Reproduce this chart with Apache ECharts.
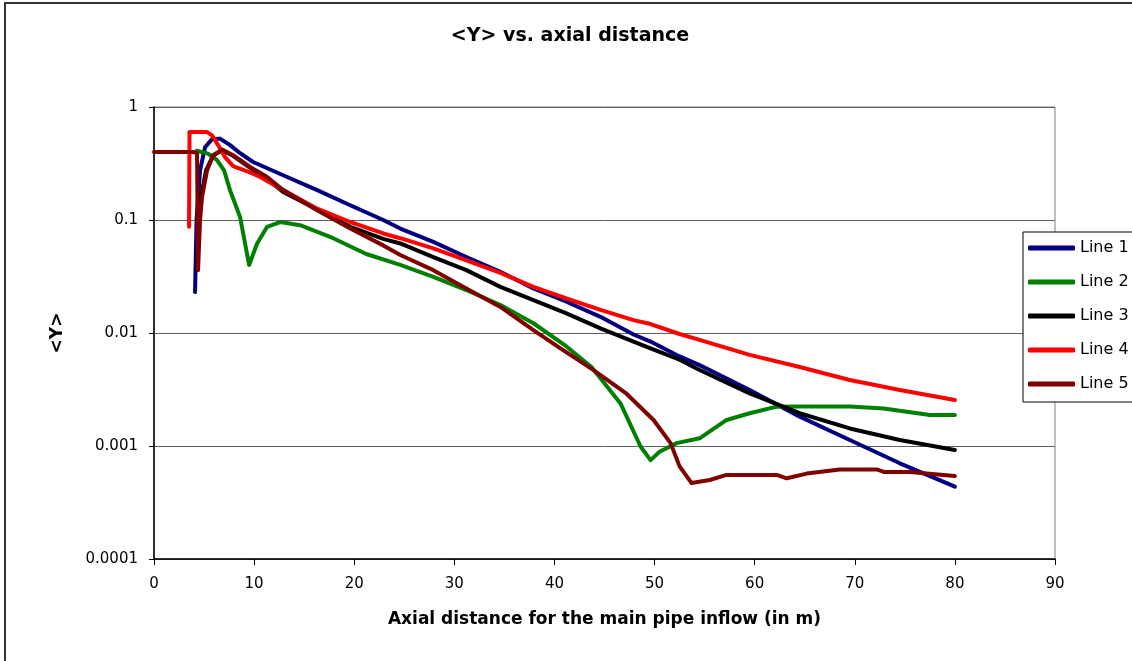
<!DOCTYPE html>
<html>
<head>
<meta charset="utf-8">
<script src="https://cdn.jsdelivr.net/npm/echarts@6/dist/echarts.min.js"></script>
<style>
  html, body { margin: 0; padding: 0; background: #fff; }
  #chart { width: 1132px; height: 661px; }
</style>
</head>
<body>
<div id="chart"></div>
<script>
// Mean <Y> along the main pipe, per line: [axial distance (m), <Y>]
const seriesNames = ['Line 1', 'Line 2', 'Line 3', 'Line 4', 'Line 5'];
const seriesColors = ['#000080', '#008000', '#000000', '#ff0000', '#800000'];

const line1 = [[4.1,0.023],[4.25,0.1],[4.6,0.275],[5.1,0.44],[5.8,0.52],[6.6,0.525],[7.6,0.46],[8.6,0.39],[9.9,0.326],[12.9,0.249],[16.3,0.184],[19.6,0.135],[22.9,0.1],[24.6,0.084],[27.9,0.064],[31.2,0.047],[34.6,0.0348],[37.9,0.0248],[41.2,0.0189],[44.6,0.0139],[47.9,0.0097],[49.6,0.0084],[52.5,0.0062],[54.5,0.0052],[59.5,0.00313],[64.5,0.00182],[69.5,0.00113],[74.5,0.000703],[80,0.000437]];

const line2 = [[4.26,0.41],[5.4,0.387],[6.3,0.338],[7.0,0.275],[7.6,0.183],[8.6,0.106],[9.5,0.04],[10.3,0.062],[11.3,0.087],[12.6,0.096],[14.6,0.09],[17.9,0.069],[21.2,0.05],[24.6,0.04],[27.9,0.0314],[31.2,0.024],[34.6,0.0177],[37.9,0.0122],[41.2,0.0076],[43.7,0.005],[46.6,0.00238],[48.6,0.00099],[49.6,0.00075],[50.5,0.00089],[52.2,0.00106],[54.5,0.00117],[57.2,0.0017],[59.5,0.00195],[62.2,0.00223],[64.5,0.00224],[69.5,0.00224],[72.9,0.00215],[77.5,0.00188],[80,0.00188]];

const line3 = [[4.3,0.036],[4.45,0.1],[4.7,0.16],[5.2,0.275],[5.9,0.37],[6.8,0.415],[7.9,0.37],[9.6,0.29],[11.3,0.23],[12.9,0.177],[16.3,0.124],[19.6,0.087],[22.9,0.068],[24.6,0.062],[27.9,0.047],[31.2,0.036],[34.6,0.0256],[37.9,0.0195],[41.2,0.0149],[44.6,0.011],[47.9,0.0084],[49.6,0.0073],[52.5,0.0058],[54.5,0.0047],[59.5,0.00292],[64.5,0.00195],[69.5,0.00143],[74.5,0.00113],[80,0.00092]];

const line4 = [[3.5,0.087],[3.55,0.6],[5.3,0.6],[5.8,0.56],[6.4,0.46],[7.1,0.36],[7.9,0.30],[9.3,0.27],[10.6,0.24],[12.9,0.184],[16.3,0.126],[19.6,0.096],[22.9,0.076],[24.6,0.069],[27.9,0.056],[31.2,0.044],[34.6,0.034],[37.9,0.0256],[41.2,0.0202],[44.6,0.016],[47.9,0.013],[49.6,0.012],[52.5,0.0098],[54.5,0.0087],[59.5,0.0064],[64.5,0.005],[69.5,0.00384],[74.5,0.00313],[80,0.00255]];

const line5 = [[0,0.4],[3.9,0.4],[4.3,0.39],[4.4,0.036],[4.6,0.1],[4.8,0.16],[5.3,0.275],[5.9,0.374],[6.8,0.42],[7.9,0.374],[9.6,0.295],[11.3,0.24],[12.9,0.184],[16.3,0.122],[19.6,0.084],[22.9,0.0596],[24.6,0.049],[27.9,0.036],[31.2,0.0248],[34.6,0.017],[37.9,0.0106],[40.6,0.0073],[43.9,0.0047],[47.2,0.0029],[49.9,0.0017],[51.6,0.00106],[52.5,0.00066],[53.7,0.00047],[55.5,0.0005],[57.2,0.000555],[62.2,0.000555],[63.2,0.000518],[65.2,0.00057],[68.5,0.00062],[72.2,0.00062],[72.9,0.00059],[75.5,0.00059],[80,0.000543]];

const yTickLabels = ['0.0001', '0.001', '0.01', '0.1', '1'];

const chartTitle = '<Y> vs. axial distance';
const xTitle = 'Axial distance for the main pipe inflow (in m)';
const yTitle = '<Y>';

const FONT = 'DejaVu Sans';
const lines = [line1, line2, line3, line4, line5];

const chart = echarts.init(document.getElementById('chart'));
chart.setOption({
  animation: false,
  backgroundColor: '#ffffff',
  graphic: [
    {
      type: 'rect',
      silent: true,
      shape: { x: 5, y: 3, width: 1160, height: 700 },
      style: { fill: 'none', stroke: '#333333', lineWidth: 2 }
    },
    {
      type: 'text',
      silent: true,
      x: 570, y: 36,
      style: {
        text: chartTitle,
        fontFamily: FONT, fontWeight: 'bold', fontSize: 19,
        fill: '#000', textAlign: 'center', textVerticalAlign: 'middle'
      }
    }
  ],
  grid: {
    left: 154, top: 107, right: 77, bottom: 102,
    show: true, borderColor: '#808080', borderWidth: 1,
    containLabel: false
  },
  legend: {
    orient: 'vertical',
    left: 1023, top: 232,
    padding: [7, 60, 9, 5],
    backgroundColor: '#ffffff',
    borderColor: '#000000', borderWidth: 1,
    itemWidth: 47, itemHeight: 5, itemGap: 16,
    icon: 'roundRect',
    data: seriesNames,
    textStyle: { fontFamily: FONT, fontSize: 16, lineHeight: 18, color: '#000' }
  },
  xAxis: {
    type: 'value', min: 0, max: 90, interval: 10,
    name: xTitle, nameLocation: 'middle', nameGap: 52,
    nameTextStyle: { fontFamily: FONT, fontWeight: 'bold', fontSize: 17, color: '#000' },
    axisLine: { show: true, onZero: false, lineStyle: { color: '#000', width: 1.5 } },
    axisTick: { show: true, inside: false, length: 6, lineStyle: { color: '#000' } },
    axisLabel: { margin: 18, fontFamily: FONT, fontSize: 15, color: '#000' },
    splitLine: { show: false }
  },
  yAxis: {
    type: 'log', logBase: 10, min: 0.0001, max: 1,
    name: yTitle, nameLocation: 'middle', nameGap: 88, nameRotate: 90,
    nameTextStyle: { fontFamily: FONT, fontWeight: 'bold', fontSize: 17, color: '#000' },
    axisLine: { show: true, lineStyle: { color: '#000', width: 1.5 } },
    axisTick: { show: true, inside: false, length: 5, lineStyle: { color: '#000' } },
    axisLabel: {
      margin: 16, fontFamily: FONT, fontSize: 15, color: '#000',
      formatter: function (v) {
        const i = Math.round(Math.log10(v)) + 4;
        return yTickLabels[i] !== undefined ? yTickLabels[i] : '';
      }
    },
    minorTick: { show: false },
    splitLine: { show: true, lineStyle: { color: '#606060', width: 1 } }
  },
  series: lines.map(function (d, i) {
    return {
      name: seriesNames[i],
      type: 'line',
      data: d,
      showSymbol: false,
      symbol: 'none',
      smooth: false,
      lineStyle: { color: seriesColors[i], width: 4, cap: 'round', join: 'round' },
      itemStyle: { color: seriesColors[i] },
      emphasis: { disabled: true }
    };
  })
});
</script>
</body>
</html>
